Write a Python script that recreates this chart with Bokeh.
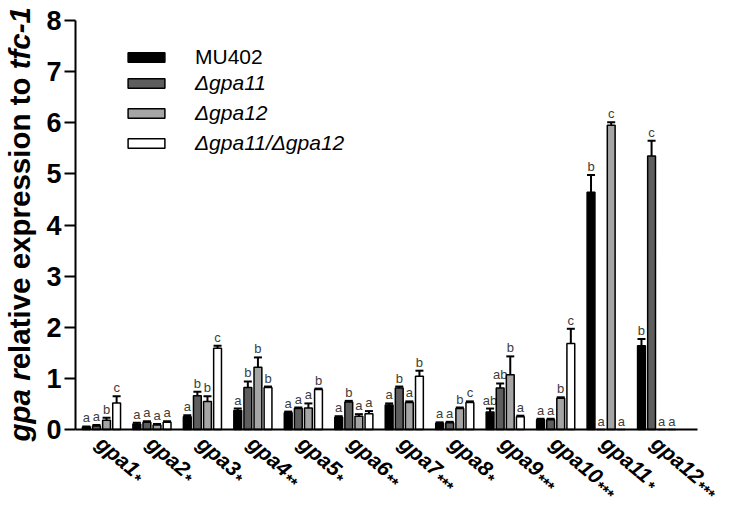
import math
from bokeh.plotting import figure
from bokeh.models import (ColumnDataSource, Range1d, FixedTicker, Whisker, TeeHead,
                          LabelSet, Label, Legend, LegendItem, LinearAxis)
from bokeh.core.properties import value
from bokeh.embed import file_html
from bokeh.resources import INLINE

# ---------------- data ----------------
genes = ["gpa1", "gpa2", "gpa3", "gpa4", "gpa5", "gpa6",
         "gpa7", "gpa8", "gpa9", "gpa10", "gpa11", "gpa12"]
stars = ["*", "*", "*", "**", "*", "**", "***", "*", "***", "***", "*", "***"]
series = ["MU402", "\u0394gpa11", "\u0394gpa12", "\u0394gpa11/\u0394gpa12"]

mu402 = [0.05, 0.11, 0.25, 0.37, 0.33, 0.24, 0.48, 0.12, 0.34, 0.19, 4.64, 1.64]
mu402_err = [0.01, 0.02, 0.03, 0.04, 0.02, 0.02, 0.03, 0.02, 0.07, 0.02, 0.34, 0.13]
d11 = [0.07, 0.14, 0.66, 0.82, 0.41, 0.54, 0.81, 0.13, 0.81, 0.19, 0.0, 5.35]
d11_err = [0.02, 0.02, 0.08, 0.12, 0.02, 0.02, 0.03, 0.02, 0.09, 0.02, 0.0, 0.30]
d12 = [0.18, 0.09, 0.55, 1.22, 0.42, 0.26, 0.53, 0.41, 1.07, 0.61, 5.95, 0.0]
d12_err = [0.05, 0.02, 0.10, 0.19, 0.09, 0.04, 0.02, 0.02, 0.36, 0.02, 0.06, 0.0]
d1112 = [0.52, 0.14, 1.59, 0.82, 0.78, 0.31, 1.04, 0.53, 0.25, 1.68, 0.0, 0.0]
d1112_err = [0.13, 0.02, 0.05, 0.02, 0.02, 0.05, 0.11, 0.02, 0.02, 0.29, 0.0, 0.0]

mu402_letters = ["a", "a", "a", "a", "a", "a", "a", "a", "ab", "a", "b", "b"]
d11_letters = ["a", "a", "b", "b", "a", "b", "b", "a", "ab", "a", "a", "c"]
d12_letters = ["b", "a", "b", "b", "a", "a", "a", "b", "b", "b", "c", "a"]
d1112_letters = ["c", "a", "c", "b", "b", "a", "b", "c", "a", "c", "a", "a"]

y_ticks = [0, 1, 2, 3, 4, 5, 6, 7, 8]

# ---------------- style / geometry ----------------
FONT = "Liberation Sans"
colors = ["#000000", "#5e5e5e", "#a5a5a5", "#ffffff"]
offsets = [-0.3, -0.1, 0.1, 0.3]
BAR_W = 0.155

W, H = 727, 505
AX_L, AX_R, AX_T, AX_B = 75, 697, 20, 429     # canvas px of the axes box
XMIN, XMAX = 0.485, 12.81                     # x data at AX_L / AX_R
XS = (AX_R - AX_L) / (XMAX - XMIN)
YS = (AX_B - AX_T) / 8.0
def dx(px):   # canvas px -> x data
    return XMIN + (px - AX_L) / XS
def dy(py):   # canvas px -> y data
    return (AX_B - py) / YS

# frame fills the whole canvas; axes are placed at fixed data locations
p = figure(width=W, height=H, output_backend="svg", toolbar_location=None,
           x_range=Range1d(dx(0), dx(W)), y_range=Range1d(dy(H), dy(0)),
           x_axis_location=None, y_axis_location=None,
           min_border_left=0, min_border_right=0, min_border_top=0, min_border_bottom=0)
p.outline_line_color = None
p.grid.visible = False
p.background_fill_color = "white"
p.border_fill_color = "white"

yax = LinearAxis(fixed_location=XMIN, bounds=(0, 8), ticker=FixedTicker(ticks=y_ticks),
                 major_label_text_font=FONT, major_label_text_font_style="bold",
                 major_label_text_font_size="27px", major_label_text_color="black",
                 major_tick_out=11, major_tick_in=0, minor_tick_out=0, minor_tick_in=0,
                 axis_line_width=2, major_tick_line_width=2, major_label_standoff=3)
p.add_layout(yax, "left")
xax = LinearAxis(fixed_location=0, bounds=(XMIN, XMAX), ticker=FixedTicker(ticks=[]),
                 axis_line_width=2, major_tick_out=0, minor_tick_out=0)
p.add_layout(xax, "below")

# bars
vals = [mu402, d11, d12, d1112]
errs = [mu402_err, d11_err, d12_err, d1112_err]
lets = [mu402_letters, d11_letters, d12_letters, d1112_letters]
renderers = []
for i in range(4):
    xs = [k + 1 + offsets[i] for k in range(len(genes))]
    src = ColumnDataSource(dict(x=xs, top=vals[i]))
    r = p.vbar(x="x", top="top", width=BAR_W, bottom=0, source=src,
               fill_color=colors[i], line_color="black", line_width=1.5)
    renderers.append(r)
    ex = [x for x, e in zip(xs, errs[i]) if e > 0]
    lo = [v for v, e in zip(vals[i], errs[i]) if e > 0]
    up = [v + e for v, e in zip(vals[i], errs[i]) if e > 0]
    wsrc = ColumnDataSource(dict(base=ex, lower=lo, upper=up))
    p.add_layout(Whisker(source=wsrc, base="base", lower="lower", upper="upper",
                         dimension="height", line_color="black", line_width=2,
                         upper_head=TeeHead(size=8, line_width=2, line_color="black"),
                         lower_head=None))
    lsrc = ColumnDataSource(dict(x=xs, y=[v + e for v, e in zip(vals[i], errs[i])],
                                 t=lets[i]))
    p.text(x="x", y="y", text="t", source=lsrc, text_align="center",
           text_baseline="bottom", y_offset=-1, text_font=value(FONT),
           text_font_size="13px", text_color="#3c3c3c")

# char widths (em) for Liberation Sans Bold
CW = {' ': 0.278, 'a': 0.556, 'c': 0.556, 'e': 0.556, 'f': 0.333, 'g': 0.611,
      'i': 0.278, 'l': 0.278, 'n': 0.611, 'o': 0.611, 'p': 0.611, 'r': 0.389,
      's': 0.556, 't': 0.333, 'v': 0.556, 'x': 0.556, '-': 0.333, '*': 0.389}
def tw(s, size):
    return sum(CW.get(c, 0.556) for c in s) * size

# x category labels (rotated)
ANG = -0.70
MAIN_SIZE, STAR_SIZE = 21, 16
ca, sa = math.cos(-ANG), math.sin(-ANG)
ox, oy = -7.0, 16.5        # px, down positive (baseline-left of text)
STAR_DROP = 4.0            # asterisks sit lower than the main baseline
mx, my, sx_, sy_ = [], [], [], []
for k, g in enumerate(genes):
    mx.append(k + 1 + ox / XS)
    my.append(-oy / YS)
    w = tw(g, MAIN_SIZE) + 1.5
    sxp = ox + w * ca - STAR_DROP * sa
    syp = oy + w * sa + STAR_DROP * ca
    sx_.append(k + 1 + sxp / XS)
    sy_.append(-syp / YS)
main_src = ColumnDataSource(dict(x=mx, y=my, t=genes))
p.add_layout(LabelSet(x="x", y="y", text="t", source=main_src, angle=ANG,
                      text_align="left", text_baseline="alphabetic",
                      text_font=value(FONT), text_font_style="bold italic",
                      text_font_size=f"{MAIN_SIZE}px", text_color="black"))
star_src = ColumnDataSource(dict(x=sx_, y=sy_, t=stars))
p.add_layout(LabelSet(x="x", y="y", text="t", source=star_src, angle=ANG,
                      text_align="left", text_baseline="alphabetic",
                      text_font=value(FONT), text_font_style="bold",
                      text_font_size=f"{STAR_SIZE}px", text_color="black"))

# y axis title (mixed styles)
YL_SIZE = 29.5
pieces = [("gpa r", "bold italic"), ("elative expression to ", "bold"), ("tfc-1", "bold italic")]
cy = 441
for txt, style in pieces:
    p.add_layout(Label(x=dx(19), y=dy(cy), text=txt, angle=math.pi / 2,
                       text_align="left", text_baseline="alphabetic",
                       text_font=FONT, text_font_style=style,
                       text_font_size=f"{YL_SIZE}px", text_color="black"))
    cy -= tw(txt, YL_SIZE)

# legends
common = dict(glyph_width=46, glyph_height=12, label_standoff=26,
              label_text_font=FONT, label_text_font_size="21px", label_height=20,
              padding=0, margin=0, spacing=6, border_line_color=None,
              background_fill_alpha=0, label_text_color="black")
leg1 = Legend(items=[LegendItem(label=series[0], renderers=[renderers[0]])],
              location=(123, H - 69), **common)
leg2 = Legend(items=[LegendItem(label=series[i], renderers=[renderers[i]]) for i in (1, 2, 3)],
              location=(123, H - 155), label_text_font_style="italic", **common)
p.add_layout(leg1)
p.add_layout(leg2)

open("out.html", "w").write(file_html(p, INLINE))
